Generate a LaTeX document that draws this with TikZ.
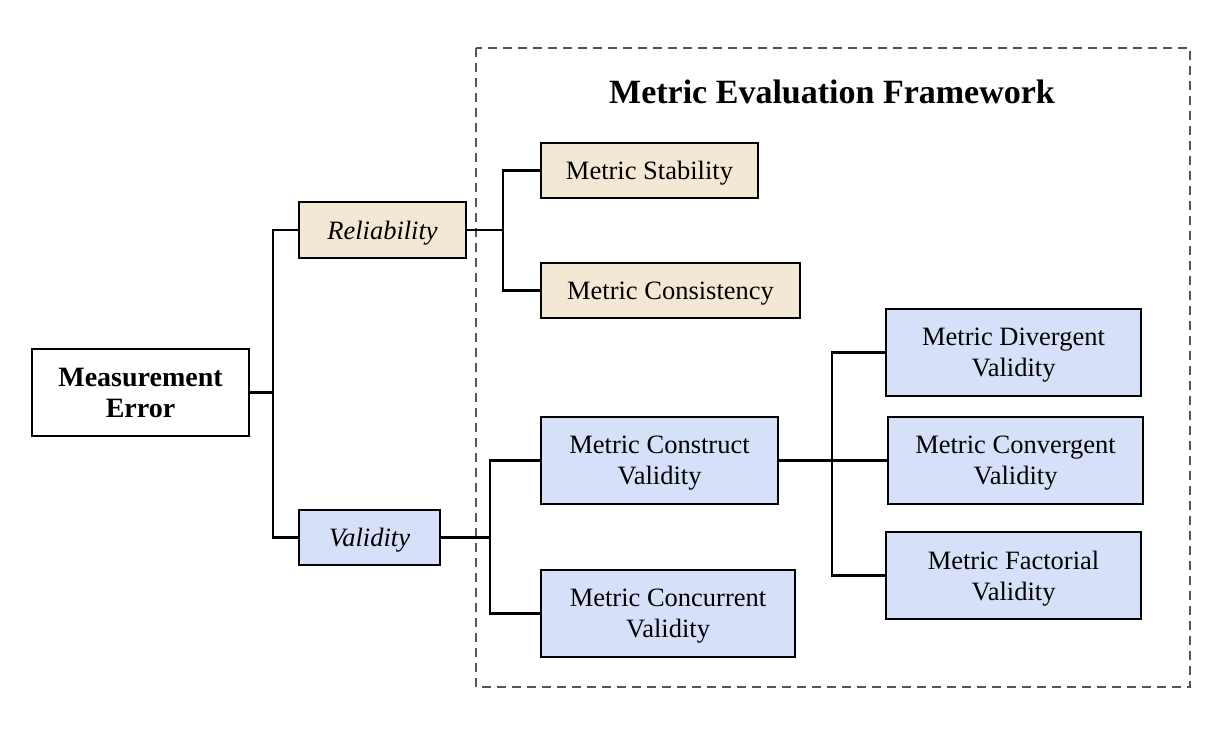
\documentclass[tikz,border=0pt]{standalone}
\usepackage{fontspec}
\setmainfont{Liberation Serif}
\definecolor{beige}{RGB}{243,232,211}
\definecolor{lblue}{RGB}{214,224,248}
\definecolor{frame}{RGB}{85,85,85}
\begin{document}
\begin{tikzpicture}[x=1pt,y=-1pt,
  box/.style={draw=black,line width=2.2pt,align=center,inner sep=0pt,text depth=0pt,
    font=\fontsize{26.5}{31}\selectfont},
  rel/.style={box,fill=beige},
  val/.style={box,fill=lblue},
  link/.style={line width=2.2pt,black}]
\useasboundingbox (0,0) rectangle (1222,733);
\draw[frame,line width=2.2pt,dash pattern=on 9pt off 6pt] (476,48) rectangle (1190,687);
\node[font=\fontsize{34}{38}\selectfont\bfseries] (title) at (832,92) {Metric Evaluation Framework};

\node[box,fill=white,minimum width=217pt,minimum height=87pt,font=\fontsize{28}{31}\selectfont\bfseries] (me) at (140.5,392.5) {Measurement\\Error};
\node[rel,minimum width=167pt,minimum height=56pt,font=\fontsize{26.5}{31}\selectfont\itshape] (rel) at (382.5,230) {Reliability};
\node[val,minimum width=141pt,minimum height=55pt,font=\fontsize{26.5}{31}\selectfont\itshape] (val) at (369.5,537.5) {Validity};

\node[rel,minimum width=217pt,minimum height=55pt] (stab) at (649.5,170.5) {Metric Stability};
\node[rel,minimum width=259pt,minimum height=55pt] (cons) at (670.5,290.5) {Metric Consistency};

\node[val,minimum width=237pt,minimum height=87pt] (constr) at (659.5,460.5) {Metric Construct\\Validity};
\node[val,minimum width=254pt,minimum height=87pt] (conc) at (668,613.5) {Metric Concurrent\\Validity};

\node[val,minimum width=255pt,minimum height=87pt] (div) at (1013.5,352.5) {Metric Divergent\\Validity};
\node[val,minimum width=255pt,minimum height=87pt] (conv) at (1015.5,460.5) {Metric Convergent\\Validity};
\node[val,minimum width=255pt,minimum height=87pt] (fact) at (1013.5,575.5) {Metric Factorial\\Validity};

\coordinate (t1) at (273,0);
\coordinate (t2) at (503,0);
\coordinate (t3) at (490,0);
\coordinate (t4) at (832,0);

\draw[link] (me.east) -- (me.east -| t1);
\draw[link] (rel.west) -| (t1 |- val.west) -- (val.west);
\draw[link] (rel.east) -- (rel.east -| t2);
\draw[link] (stab.west) -| (t2 |- cons.west) -- (cons.west);
\draw[link] (val.east) -- (val.east -| t3);
\draw[link] (constr.west) -| (t3 |- conc.west) -- (conc.west);
\draw[link] (constr.east) -- (conv.west);
\draw[link] (div.west) -| (t4 |- fact.west) -- (fact.west);
\end{tikzpicture}
\end{document}
